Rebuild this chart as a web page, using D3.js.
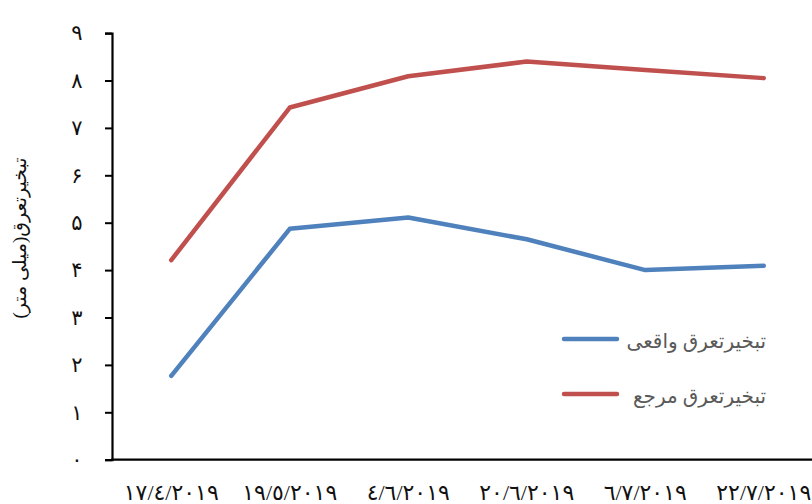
<!DOCTYPE html>
<html>
<head>
<meta charset="utf-8">
<script src="https://cdn.jsdelivr.net/npm/d3@7"></script>
<style>
  body { margin: 0; background: #fff; }
  svg { display: block; }
  text { font-family: "Times New Roman", "DejaVu Serif", "DejaVu Sans", serif; }
</style>
</head>
<body>
<svg id="chart" width="812" height="504"></svg>
<script>
// data
const dates = ['١٧/٤/٢٠١٩', '١٩/٥/٢٠١٩', '٤/٦/٢٠١٩', '٢٠/٦/٢٠١٩', '٦/٧/٢٠١٩', '٢٢/٧/٢٠١٩'];
const actual = [1.77, 4.87, 5.11, 4.65, 4.0, 4.09];
const reference = [4.21, 7.43, 8.09, 8.4, 8.22, 8.05];
const seriesNames = ['تبخیرتعرق واقعی', 'تبخیرتعرق مرجع'];
const yTicks = [0, 1, 2, 3, 4, 5, 6, 7, 8, 9];
const yTitle = 'تبخیرتعرق(میلی متر)';

const persian = '۰۱۲۳۴۵۶۷۸۹';
const toFa = n => String(n).replace(/\d/g, d => persian[d]);

const svg = d3.select('#chart');
const plotLeft = 112, plotBottom = 459.7, plotTop = 33.1;

const x = d3.scalePoint().domain(dates).range([plotLeft, plotLeft + 6 * 118.5]).padding(0.5);
const y = d3.scaleLinear().domain([0, 9]).range([plotBottom, plotTop]);

// y axis
const yAxis = svg.append('g').attr('transform', 'translate(' + plotLeft + ',0)')
  .call(d3.axisLeft(y).tickValues(yTicks).tickSize(7).tickPadding(22).tickFormat(toFa));
yAxis.select('.domain').attr('stroke', '#000').attr('stroke-width', 2.2);
yAxis.selectAll('.tick line').attr('stroke', '#000').attr('stroke-width', 2);
yAxis.selectAll('.tick text').attr('font-size', 21).attr('fill', '#111').attr('text-anchor', 'middle').attr('x', -35);

// x axis line only
svg.append('line').attr('x1', plotLeft - 1).attr('x2', 812).attr('y1', plotBottom).attr('y2', plotBottom)
  .attr('stroke', '#000').attr('stroke-width', 2.2);

svg.append('g').selectAll('text').data(dates).join('text')
  .attr('x', d => x(d)).attr('y', 500)
  .attr('text-anchor', 'middle').attr('direction', 'ltr')
  .attr('font-size', 22).attr('fill', '#111')
  .text(d => d);

// y title
svg.append('text')
  .attr('transform', 'translate(26,238) rotate(-90)')
  .attr('text-anchor', 'middle').attr('font-size', 19).attr('fill', '#111')
  .attr('direction', 'rtl')
  .text(yTitle);

// lines
const colors = ['#4F81BD', '#C0504D'];
const line = d3.line().x((d, i) => x(dates[i])).y(d => y(d));
[actual, reference].forEach((vals, k) => {
  svg.append('path').datum(vals).attr('d', line)
    .attr('fill', 'none').attr('stroke', colors[k]).attr('stroke-width', 4.5)
    .attr('stroke-linecap', 'round').attr('stroke-linejoin', 'round');
});

// legend
const legend = svg.append('g');
seriesNames.forEach((name, k) => {
  const ly = 339 + k * 55;
  legend.append('line').attr('x1', 564).attr('x2', 617).attr('y1', ly).attr('y2', ly)
    .attr('stroke', colors[k]).attr('stroke-width', 4.5).attr('stroke-linecap', 'round');
  legend.append('text').attr('x', 766).attr('y', ly + 9)
    .attr('text-anchor', 'start').attr('direction', 'rtl')
    .attr('font-size', 20).attr('fill', '#595959').text(name);
});
</script>
</body>
</html>
